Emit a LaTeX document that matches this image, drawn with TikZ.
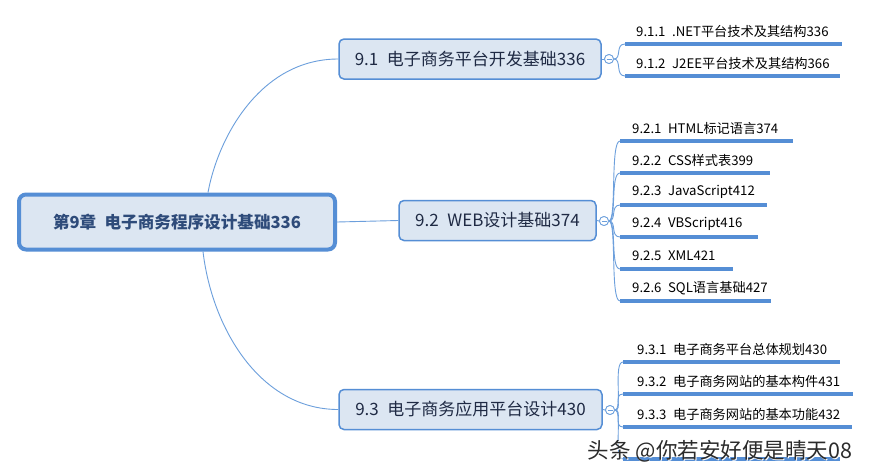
\documentclass[tikz,border=0pt]{standalone}
\usepackage{fontspec}
\setmainfont{Noto Sans CJK SC}
\usetikzlibrary{calc}
\definecolor{boxfill}{HTML}{DCE6F2}
\definecolor{boxline}{HTML}{558ED5}
\definecolor{conncol}{HTML}{6C9FDC}
\definecolor{ulinecol}{HTML}{558ED5}
\definecolor{roottext}{HTML}{2E4B7A}
\definecolor{subtext}{HTML}{1F2A44}
\definecolor{wmark}{HTML}{2B2B2B}
\begin{document}
\begin{tikzpicture}[x=1pt,y=-1pt,
 rootbox/.style={draw=boxline, line width=4pt, fill=boxfill, rounded corners=7pt, minimum width=316pt, minimum height=55pt, inner sep=0pt, font=\fontsize{16.6}{19}\selectfont\bfseries, text=roottext},
 subbox/.style={draw=boxline, line width=1.5pt, fill=boxfill, rounded corners=5pt, minimum height=40pt, inner sep=0pt, font=\fontsize{17}{19}\selectfont, text=subtext},
 leaf/.style={anchor=west, inner sep=0pt, font=\fontsize{13.2}{15}\selectfont, text=black},
 connector/.style={draw=conncol, line width=0.9pt},
 uline/.style={draw=ulinecol, line width=3.3pt},
 toggle/.style={circle, draw=conncol, fill=white, line width=0.8pt, minimum size=9pt, inner sep=0pt},
]
\fill[white] (0,0) rectangle (871,475);
\useasboundingbox (0,0) rectangle (871,475);

% underline coordinates
\coordinate (u11s) at (625,44);  \coordinate (u11e) at (842,44);
\coordinate (u12s) at (625,76);  \coordinate (u12e) at (840,76);
\coordinate (u21s) at (620,141); \coordinate (u21e) at (793,141);
\coordinate (u22s) at (620,173); \coordinate (u22e) at (770,173);
\coordinate (u23s) at (620,205); \coordinate (u23e) at (767,205);
\coordinate (u24s) at (620,237); \coordinate (u24e) at (758,237);
\coordinate (u25s) at (620,269); \coordinate (u25e) at (733,269);
\coordinate (u26s) at (620,301); \coordinate (u26e) at (771,301);
\coordinate (u31s) at (623,362); \coordinate (u31e) at (840,362);
\coordinate (u32s) at (623,394); \coordinate (u32e) at (853,394);
\coordinate (u33s) at (623,427); \coordinate (u33e) at (852,427);
\coordinate (u34s) at (623,459); \coordinate (u34e) at (840,459);

% main nodes
\node[rootbox] (root) at (177,222) {第9章\hspace{0.5em}电子商务程序设计基础336};
\node[subbox, minimum width=262pt] (s1) at (470,59) {9.1\hspace{0.5em}电子商务平台开发基础336};
\node[subbox, minimum width=197pt] (s2) at (497.5,220.5) {9.2\hspace{0.5em}WEB设计基础374};
\node[subbox, minimum width=263pt] (s3) at (470.5,409.5) {9.3\hspace{0.5em}电子商务应用平台设计430};

\node[toggle] (t1) at (609,59) {};
\node[toggle] (t2) at (604,221) {};
\node[toggle] (t3) at (610,410) {};

% root connectors
\coordinate (rtop) at ($(root.north)+(31,0)$);
\coordinate (rbot) at ($(root.south)+(26,0)$);
\draw[connector] (rtop) .. controls +(10,-55) and +(-78,0) .. (s1.west);
\draw[connector] (rbot) .. controls +(9,77) and +(-78,0) .. (s3.west);
\draw[connector] (root.east) -- (s2.west);

% box to toggle
\draw[connector] (s1.east) -- (t1.west);
\draw[connector] (s2.east) -- (t2.west);
\draw[connector] (s3.east) -- (t3.west);

% toggle to leaves
\foreach \u in {u11s,u12s} \draw[connector] (t1.east) .. controls +(8,0) and +(-10,0) .. (\u);
\foreach \u in {u21s,u22s,u23s,u24s,u25s,u26s} \draw[connector] (t2.east) .. controls +(8,0) and +(-10,0) .. (\u);
\foreach \u in {u31s,u32s,u33s,u34s} \draw[connector] (t3.east) .. controls +(8,0) and +(-10,0) .. (\u);

% toggles on top with minus sign
\foreach \t in {t1,t2,t3} {
  \node[toggle] at (\t) {};
  \draw[draw=conncol, line width=0.8pt] ($(\t)+(-2.5,0)$) -- ($(\t)+(2.5,0)$);
}

% underlines
\foreach \n in {11,12,21,22,23,24,25,26,31,32,33,34} \draw[uline] (u\n s) -- (u\n e);

% leaf texts
\node[leaf] (l11) at (636,31) {9.1.1\hspace{0.5em}.NET平台技术及其结构336};
\node[leaf] (l12) at (636,63) {9.1.2\hspace{0.5em}J2EE平台技术及其结构366};
\node[leaf] (l21) at (632,128) {9.2.1\hspace{0.5em}HTML标记语言374};
\node[leaf] (l22) at (632,160) {9.2.2\hspace{0.5em}CSS样式表399};
\node[leaf] (l23) at (632,192) {9.2.3\hspace{0.5em}JavaScript412};
\node[leaf] (l24) at (632,224) {9.2.4\hspace{0.5em}VBScript416};
\node[leaf] (l25) at (632,256) {9.2.5\hspace{0.5em}XML421};
\node[leaf] (l26) at (632,288) {9.2.6\hspace{0.5em}SQL语言基础427};
\node[leaf] (l31) at (637,349) {9.3.1\hspace{0.5em}电子商务平台总体规划430};
\node[leaf] (l32) at (637,381) {9.3.2\hspace{0.5em}电子商务网站的基本构件431};
\node[leaf] (l33) at (637,414) {9.3.3\hspace{0.5em}电子商务网站的基本功能432};

% watermark
\node[text=white, font=\fontsize{21.5}{24}\selectfont, inner sep=0pt] at (721,452) {头条 @你若安好便是晴天08};
\node[text=wmark, font=\fontsize{21.5}{24}\selectfont, inner sep=0pt] (wm) at (720,451) {头条 @你若安好便是晴天08};
\end{tikzpicture}
\end{document}
